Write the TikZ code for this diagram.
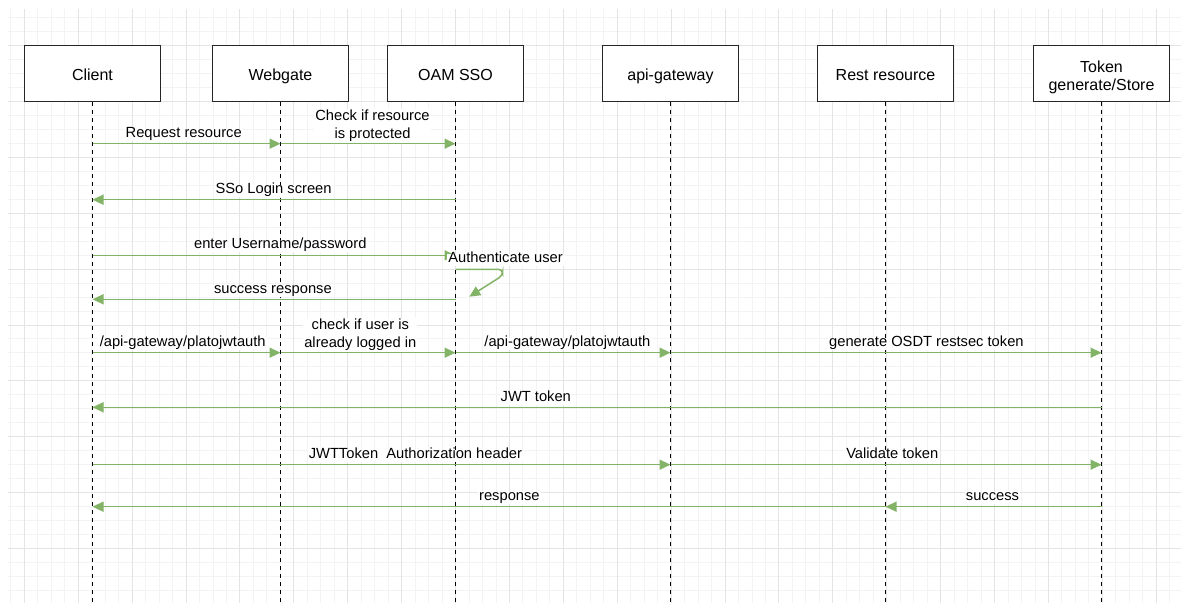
\documentclass[tikz,border=0pt]{standalone}
\usepackage{fontspec}
\setmainfont{Liberation Sans}
\usetikzlibrary{arrows.meta}
\definecolor{gline}{HTML}{82B366}
\definecolor{gridmajor}{HTML}{E4E4E4}
\definecolor{gridminor}{HTML}{F3F3F3}
\begin{document}
\begin{tikzpicture}[x=1pt,y=-1pt,
  actor/.style={draw=black!85, line width=1.3pt, fill=white, minimum width=136pt, minimum height=56pt, inner sep=0pt, font=\fontsize{16}{18.7}\selectfont, text height=18.6pt, text depth=4pt},
  actortext/.style={inner sep=0pt, font=\fontsize{16}{18.7}\selectfont, align=center},
  lifeline/.style={draw=black, line width=1.2pt, dash pattern=on 4pt off 4pt},
  msg/.style={draw=gline, line width=1.5pt, -{Triangle[length=11pt,width=10pt]}},
  msgl/.style={font=\fontsize{14.7}{18.3}\selectfont, fill=white, inner sep=1pt, text height=0.75em, text depth=0.25em},
  msgll/.style={font=\fontsize{14.7}{18.3}\selectfont, fill=white, inner sep=1pt, align=center}]
\useasboundingbox[fill=white] (0,0) rectangle (1181,603);
% grid
\foreach \i in {0,...,86} \draw[gridminor, line width=0.8pt] ({10.8+13.475*\i},9.3) -- ({10.8+13.475*\i},603);
\foreach \j in {0,...,41} \draw[gridminor, line width=0.8pt] (8,{17.8+13.96*\j}) -- (1181,{17.8+13.96*\j});
\foreach \i in {0,...,21} \draw[gridmajor, line width=0.9pt] ({24.3+53.9*\i},9.3) -- ({24.3+53.9*\i},603);
\foreach \j in {0,...,9} \draw[gridmajor, line width=0.9pt] (8,{45.7+55.85*\j}) -- (1181,{45.7+55.85*\j});
% actors
\coordinate (bot) at (0,603);
\node[actor] (client) at (92.5,73.5) {Client};
\node[actor] (web) at (280.5,73.5) {Webgate};
\node[actor] (oam) at (455.5,73.5) {OAM SSO};
\node[actor] (api) at (670.5,73.5) {api-gateway};
\node[actor] (rest) at (885.5,73.5) {Rest resource};
\node[actor] (token) at (1101.5,73.5) {};
\node[actortext] (tokentext) at (1101.5,77.4) {Token\\generate/Store};
\foreach \a in {client,web,oam,api,rest,token}
  \draw[lifeline] (\a.south) -- (\a.south |- bot);
% message levels
\coordinate (m1) at (0,143.7);
\coordinate (m2) at (0,199.7);
\coordinate (m3) at (0,255.3);
\coordinate (m4) at (0,269.3);
\coordinate (m5) at (0,299.3);
\coordinate (m6) at (0,352.7);
\coordinate (m7) at (0,407.3);
\coordinate (m8) at (0,464.7);
\coordinate (m9) at (0,506.7);
\coordinate (s1) at (502.6,269.3);
\coordinate (s1b) at (502.6,275.5);
\coordinate (s2) at (469.3,296.7);
% messages
\draw[msg] (client |- m1) -- (web |- m1);
\draw[msg] (web |- m1) -- (oam |- m1);
\draw[msg] (oam |- m2) -- (client |- m2);
\draw[msg] (client |- m3) -- (oam |- m3);
\draw[msg, rounded corners=4pt] (oam |- m4) -- (s1) -- (s1b) -- (s2);
\draw[msg] (oam |- m5) -- (client |- m5);
\draw[msg] (client |- m6) -- (web |- m6);
\draw[msg] (web |- m6) -- (oam |- m6);
\draw[msg] (oam |- m6) -- (api |- m6);
\draw[msg] (api |- m6) -- (token |- m6);
\draw[msg] (token |- m7) -- (client |- m7);
\draw[msg] (client |- m8) -- (api |- m8);
\draw[msg] (api |- m8) -- (token |- m8);
\draw[msg] (token |- m9) -- (rest |- m9);
\draw[msg] (rest |- m9) -- (client |- m9);
% labels
\node[msgl] (l1) at (183.7,134.5) {Request resource};
\node[msgll] (l2) at (372.5,125.5) {Check if resource\\is protected};
\node[msgl] (l3) at (273.6,190.5) {SSo Login screen};
\node[msgl] (l4) at (280.3,246) {enter Username/password};
\node[msgl] (l5) at (505.5,260) {Authenticate user};
\node[msgl] (l6) at (272.9,291) {success response};
\node[msgl] (l7) at (182.7,344) {/api-gateway/platojwtauth};
\node[msgll] (l8) at (360.3,334.8) {check if user is\\already logged in};
\node[msgl] (l9) at (567.4,344) {/api-gateway/platojwtauth};
\node[msgl] (l10) at (926.4,344) {generate OSDT restsec token};
\node[msgl] (l11) at (535.8,398.5) {JWT token};
\node[msgl] (l12) at (415.4,455.8) {JWTToken\ \ Authorization header};
\node[msgl] (l13) at (892.3,455.8) {Validate token};
\node[msgl] (l14) at (992.5,497.8) {success};
\node[msgl] (l15) at (509.4,497.8) {response};
\end{tikzpicture}
\end{document}
